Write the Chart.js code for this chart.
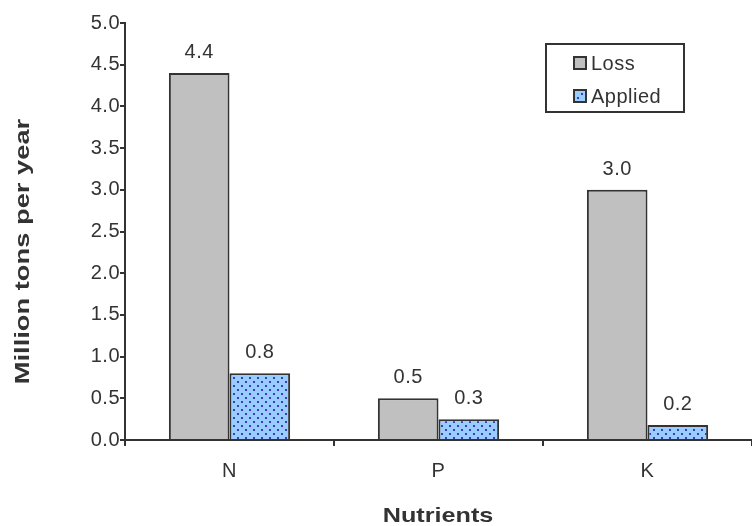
<!DOCTYPE html>
<html lang="en">
<head>
  <meta charset="UTF-8" />
  <title>Nutrients</title>
  <script src="https://cdn.jsdelivr.net/npm/chart.js"></script>
  <style>
    html, body { margin: 0; padding: 0; background: #fff; }
    .wrap { width: 752px; height: 526px; }
  </style>
</head>
<body>
  <div class="wrap"><canvas id="chart" width="752" height="526"></canvas></div>

  <script>
    // data
    const categories = ['N', 'P', 'K'];
    const lossValues = [4.4, 0.5, 3.0];
    const appliedValues = [0.8, 0.25, 0.18];
    const yTicks = [0, 0.5, 1, 1.5, 2, 2.5, 3, 3.5, 4, 4.5, 5];

    const FONT = "'Liberation Sans', Arial, sans-serif";
    const INK = '#333333';

    // light blue with small dark blue dots
    function dotPattern() {
      const c = document.createElement('canvas');
      c.width = 8; c.height = 8;
      const g = c.getContext('2d');
      g.fillStyle = '#99ccff';
      g.fillRect(0, 0, 8, 8);
      g.fillStyle = '#3c3cb4';
      g.fillRect(1, 1, 2, 2);
      g.fillRect(5, 5, 2, 2);
      return g.createPattern(c, 'repeat');
    }
    const applied = dotPattern();

    // the original text is a little wider than Arial
    const spacing = {
      id: 'spacing',
      beforeLayout(chart) { chart.ctx.letterSpacing = '0.5px'; },
      beforeDraw(chart) { chart.ctx.letterSpacing = '0.5px'; }
    };

    // axis titles drawn by hand, stretched along the text like the original
    const axisTitles = {
      id: 'axisTitles',
      afterDraw(chart) {
        const ctx = chart.ctx;
        const a = chart.chartArea;
        ctx.save();
        ctx.font = 'bold 21px ' + FONT;
        ctx.fillStyle = INK;
        ctx.textAlign = 'center';
        ctx.textBaseline = 'middle';
        ctx.letterSpacing = '0px';
        ctx.save();
        ctx.translate(438, 516);
        ctx.scale(1.2, 1);
        ctx.fillText('Nutrients', 0, 0);
        ctx.restore();
        ctx.translate(23, (a.top + a.bottom) / 2 + 20);
        ctx.rotate(-Math.PI / 2);
        ctx.scale(1.3, 1);
        ctx.fillText('Million tons per year', 0, 0);
        ctx.restore();
      }
    };

    // value labels above each bar
    const valueLabels = {
      id: 'valueLabels',
      afterDatasetsDraw(chart) {
        const ctx = chart.ctx;
        ctx.save();
        ctx.font = '20px ' + FONT;
        ctx.fillStyle = INK;
        ctx.textAlign = 'center';
        ctx.textBaseline = 'alphabetic';
        chart.data.datasets.forEach((ds, i) => {
          chart.getDatasetMeta(i).data.forEach((bar, j) => {
            ctx.fillText(ds.data[j].toFixed(1), bar.x, bar.y - 15);
          });
        });
        ctx.restore();
      }
    };

    // boxed legend in the upper right of the plot
    const boxLegend = {
      id: 'boxLegend',
      afterDraw(chart) {
        const ctx = chart.ctx;
        const a = chart.chartArea;
        const x = 546, y = a.top + 21, w = 138, h = 68;
        ctx.save();
        ctx.fillStyle = '#fff';
        ctx.fillRect(x, y, w, h);
        ctx.strokeStyle = INK;
        ctx.lineWidth = 2;
        ctx.strokeRect(x, y, w, h);
        ctx.font = '20px ' + FONT;
        ctx.textBaseline = 'middle';
        chart.data.datasets.forEach((ds, i) => {
          const ry = y + 19 + i * 33;
          ctx.fillStyle = ds.backgroundColor;
          ctx.fillRect(x + 28, ry - 6, 12, 12);
          ctx.strokeStyle = INK;
          ctx.lineWidth = 2;
          ctx.strokeRect(x + 28, ry - 6, 12, 12);
          ctx.fillStyle = INK;
          ctx.fillText(ds.label, x + 45, ry + 1);
        });
        ctx.restore();
      }
    };

    new Chart(document.getElementById('chart'), {
      type: 'bar',
      data: {
        labels: categories,
        datasets: [
          {
            label: 'Loss',
            data: lossValues,
            backgroundColor: '#c0c0c0',
            borderColor: INK,
            borderWidth: 2,
            borderSkipped: 'bottom'
          },
          {
            label: 'Applied',
            data: appliedValues,
            backgroundColor: applied,
            borderColor: INK,
            borderWidth: 2,
            borderSkipped: 'bottom'
          }
        ]
      },
      options: {
        responsive: false,
        animation: false,
        devicePixelRatio: 1,
        layout: { padding: { top: 23, right: -4, left: 0, bottom: 0 } },
        datasets: { bar: { categoryPercentage: 0.58, barPercentage: 1.0 } },
        plugins: {
          legend: { display: false },
          tooltip: { enabled: false }
        },
        scales: {
          x: {
            grid: {
              offset: true,
              drawOnChartArea: false,
              drawTicks: true,
              tickLength: 6,
              color: INK,
              lineWidth: 2
            },
            border: { display: true, color: INK, width: 2 },
            ticks: { color: INK, font: { family: FONT, size: 20 }, padding: 13 },
            afterFit(scale) { scale.height = 86; }
          },
          y: {
            min: 0,
            max: 5,
            afterBuildTicks(scale) { scale.ticks = yTicks.map(v => ({ value: v })); },
            grid: {
              drawOnChartArea: false,
              drawTicks: true,
              tickLength: 5,
              color: INK,
              lineWidth: 2
            },
            border: { display: true, color: INK, width: 2 },
            ticks: {
              color: INK,
              font: { family: FONT, size: 20 },
              padding: 0,
              callback: v => Number(v).toFixed(1)
            },
            afterFit(scale) { scale.width = 125; }
          }
        }
      },
      plugins: [spacing, valueLabels, boxLegend, axisTitles]
    });
  </script>
</body>
</html>
